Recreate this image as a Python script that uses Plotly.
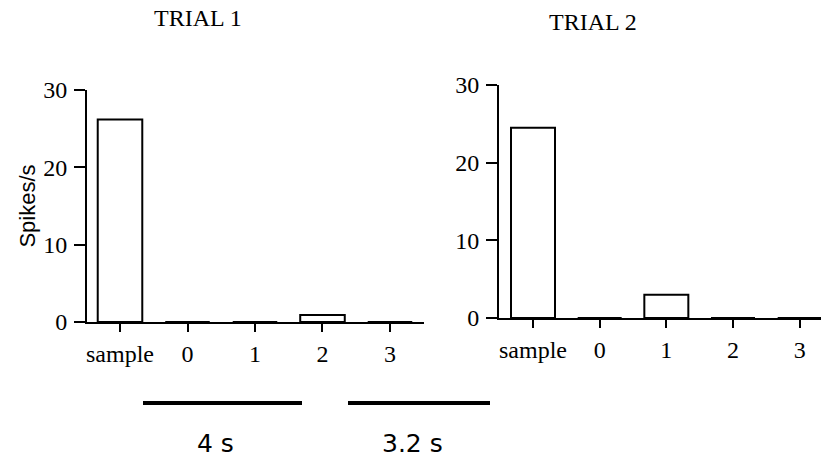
import plotly.graph_objects as go

categories = ["sample", "0", "1", "2", "3"]
trial1_rates = [26.2, 0, 0, 0.9, 0]
trial2_rates = [24.5, 0, 3.0, 0, 0]
y_ticks = [0, 10, 20, 30]
panel_titles = ["TRIAL 1", "TRIAL 2"]
scale_labels = ["4 s", "3.2 s"]

W, H = 821, 461
def px(x): return x / W
def py(y): return 1 - y / H

fig = go.Figure()
bar_style = dict(marker=dict(color="white", line=dict(color="black", width=2)), width=0.66,
                 showlegend=False, hoverinfo="skip")
fig.add_trace(go.Bar(x=categories, y=trial1_rates, xaxis="x", yaxis="y", **bar_style))
fig.add_trace(go.Bar(x=categories, y=trial2_rates, xaxis="x2", yaxis="y2", **bar_style))

tickfont = dict(family="Liberation Serif", size=24, color="black")
xcommon = dict(type="category", categoryorder="array", categoryarray=categories,
               showline=True, linecolor="black", linewidth=2, ticks="outside", ticklen=8,
               tickwidth=2, tickcolor="black", tickfont=tickfont, showgrid=False,
               zeroline=False, fixedrange=True, ticklabelstandoff=1, automargin=False)
ycommon = dict(range=[0, 30], tickvals=y_ticks, showline=True, linecolor="black", linewidth=2,
               ticks="outside", ticklen=11, tickwidth=2, tickcolor="black", tickfont=tickfont,
               showgrid=False, zeroline=False, fixedrange=True, ticklabelstandoff=2,
               automargin=False)

fig.update_layout(
    width=W, height=H, margin=dict(l=0, r=0, t=0, b=0, autoexpand=False),
    paper_bgcolor="white", plot_bgcolor="white",
    xaxis=dict(domain=[px(87), px(424)], range=[-0.489, 4.504], anchor="y", **xcommon),
    yaxis=dict(domain=[py(322), py(90)], anchor="x",
               title=dict(text="Spikes/s", font=dict(family="Liberation Sans", size=22, color="black"),
                          standoff=2), **ycommon),
    xaxis2=dict(domain=[px(499), 1.0], range=[-0.51, 4.32], anchor="y2", **xcommon),
    yaxis2=dict(domain=[py(318), py(85)], anchor="x2", **ycommon),
    bargap=0,
)

title_pos = [(198, 18), (593, 22)]
for t, (x, y) in zip(panel_titles, title_pos):
    fig.add_annotation(text=t, x=px(x), y=py(y), xref="paper", yref="paper", showarrow=False,
                       xanchor="center", yanchor="middle", borderpad=0,
                       font=dict(family="Liberation Serif", size=24, color="black"))

bars = [(143, 302), (348, 490)]
label_x = [215, 412]
for (x0, x1), lab, lx in zip(bars, scale_labels, label_x):
    fig.add_shape(type="line", xref="paper", yref="paper", x0=px(x0), x1=px(x1), y0=py(403), y1=py(403),
                  line=dict(color="black", width=4))
    fig.add_annotation(text=lab, x=px(lx), y=py(443), xref="paper", yref="paper", showarrow=False,
                       xanchor="center", yanchor="middle", borderpad=0,
                       font=dict(family="DejaVu Sans", size=25, color="black"))

fig.write_html("out.html", config={"displayModeBar": False, "staticPlot": True},
               post_script="document.body.style.margin='0';document.body.style.overflow='hidden';")
